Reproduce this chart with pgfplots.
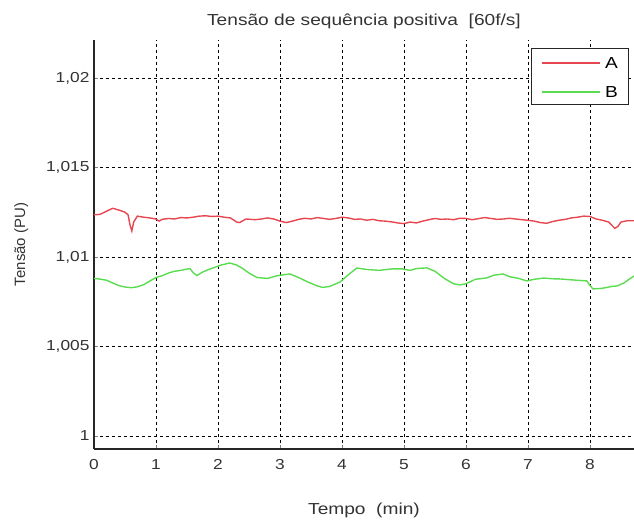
\documentclass[border=0pt]{standalone}
\usepackage{pgfplots}
\pgfplotsset{compat=1.18}
\usepackage{fontspec}
\setmainfont{Liberation Sans}
\newfontfamily\sfont{Liberation Sans}[FakeStretch=1.2]
\definecolor{redA}{RGB}{230,70,80}
\definecolor{greenB}{RGB}{90,220,80}
\begin{document}
\begin{tikzpicture}
\useasboundingbox (-94bp,-71bp) rectangle (540bp,449bp);
\begin{axis}[
  at={(0,0)}, anchor=south west,
  scale only axis, width=540bp, height=409bp,
  xmin=0, xmax=8.71, ymin=0.99927, ymax=1.02212,
  axis x line*=bottom, axis y line*=left,
  axis line style={black!85, line width=1.2pt, -},
  xtick={0,1,2,3,4,5,6,7,8},
  ytick={1,1.005,1.01,1.015,1.02},
  yticklabels={1,{1,005},{1,01},{1,015},{1,02}},
  scaled y ticks=false,
  tick align=inside, major tick length=4bp,
  grid=major,
  major grid style={black, line width=0.8pt, dash pattern=on 3bp off 3bp},
  tick label style={font=\sfont\fontsize{14.5}{14.5}\selectfont, text=black!80},
  /pgf/number format/assume math mode=true,
  xticklabel style={yshift=-7bp},
  yticklabel style={xshift=-1bp},
  title={Tensão de sequência positiva\ \ [60f/s]},
  title style={font=\sfont\fontsize{16}{16}\selectfont, text=black!80, at={(0.5,1)}, yshift=2bp},
  xlabel={Tempo\ \ (min)},
  ylabel={Tensão (PU)},
  xlabel style={font=\sfont\fontsize{16}{16}\selectfont, text=black!80, yshift=-26bp},
  ylabel style={font=\fontsize{15}{15}\selectfont, text=black!80, yshift=11bp},
]
\addplot[redA, line width=1.4pt] coordinates {
(0,1.01235)(0.1,1.01238)(0.2,1.01255)(0.3,1.01272)(0.4,1.01262)(0.5,1.01250)(0.55,1.01235)(0.58,1.01180)(0.61,1.01145)(0.64,1.01195)(0.7,1.01228)(0.8,1.01222)(0.9,1.01218)(1.0,1.01212)(1.05,1.01200)(1.1,1.01210)(1.2,1.01215)(1.3,1.01212)(1.4,1.01220)(1.5,1.01218)(1.6,1.01222)(1.7,1.01228)(1.8,1.01230)(1.9,1.01226)(2.0,1.01228)(2.1,1.01222)(2.2,1.01218)(2.3,1.01195)(2.35,1.01192)(2.45,1.01212)(2.6,1.01208)(2.7,1.01212)(2.8,1.01218)(2.9,1.01212)(3.0,1.01200)(3.1,1.01192)(3.2,1.01200)(3.3,1.01210)(3.4,1.01216)(3.5,1.01212)(3.6,1.01220)(3.7,1.01215)(3.8,1.01210)(3.9,1.01215)(4.0,1.01222)(4.1,1.01218)(4.2,1.01210)(4.3,1.01212)(4.4,1.01205)(4.5,1.01210)(4.6,1.01202)(4.7,1.01200)(4.8,1.01196)(4.9,1.01190)(5.0,1.01186)(5.1,1.01195)(5.2,1.01190)(5.3,1.01200)(5.4,1.01208)(5.5,1.01215)(5.6,1.01210)(5.7,1.01212)(5.8,1.01208)(5.9,1.01216)(6.0,1.01215)(6.1,1.01208)(6.2,1.01214)(6.3,1.01220)(6.4,1.01215)(6.5,1.01210)(6.6,1.01212)(6.7,1.01216)(6.8,1.01212)(6.9,1.01208)(7.0,1.01205)(7.1,1.01200)(7.2,1.01192)(7.3,1.01188)(7.4,1.01198)(7.5,1.01205)(7.6,1.01210)(7.7,1.01218)(7.8,1.01222)(7.9,1.01228)(8.0,1.01226)(8.1,1.01212)(8.2,1.01205)(8.3,1.01195)(8.4,1.01160)(8.45,1.01170)(8.5,1.01195)(8.6,1.01202)(8.71,1.01202)
};
\addplot[greenB, line width=1.4pt] coordinates {
(0,1.00880)(0.1,1.00876)(0.2,1.00870)(0.3,1.00855)(0.4,1.00840)(0.5,1.00832)(0.6,1.00828)(0.7,1.00833)(0.8,1.00845)(0.9,1.00865)(1.0,1.00885)(1.1,1.00895)(1.2,1.00910)(1.3,1.00920)(1.4,1.00925)(1.5,1.00932)(1.55,1.00935)(1.6,1.00912)(1.66,1.00896)(1.75,1.00915)(1.85,1.00930)(1.95,1.00942)(2.05,1.00955)(2.19,1.00966)(2.3,1.00955)(2.4,1.00935)(2.5,1.00910)(2.63,1.00885)(2.8,1.00880)(2.95,1.00895)(3.16,1.00905)(3.3,1.00885)(3.45,1.00860)(3.6,1.00838)(3.69,1.00830)(3.8,1.00835)(3.97,1.00860)(4.1,1.00900)(4.24,1.00938)(4.4,1.00930)(4.6,1.00925)(4.8,1.00933)(4.98,1.00933)(5.1,1.00925)(5.2,1.00935)(5.37,1.00939)(5.5,1.00920)(5.65,1.00880)(5.8,1.00850)(5.9,1.00844)(6.0,1.00850)(6.15,1.00875)(6.34,1.00883)(6.45,1.00898)(6.6,1.00905)(6.7,1.00890)(6.85,1.00880)(6.98,1.00866)(7.1,1.00875)(7.25,1.00882)(7.4,1.00878)(7.52,1.00877)(7.7,1.00872)(7.95,1.00866)(8.0,1.00840)(8.05,1.00821)(8.2,1.00825)(8.35,1.00835)(8.44,1.00838)(8.55,1.00855)(8.65,1.00880)(8.71,1.00894)
};
% legend box
\draw[black!85, line width=1pt, fill=white] (rel axis cs:0.811,0.978) rectangle (rel axis cs:0.989,0.8435);
\draw[redA, line width=1.4pt] (rel axis cs:0.8296,0.9438) -- (rel axis cs:0.937,0.9438);
\draw[greenB, line width=1.4pt] (rel axis cs:0.8296,0.873) -- (rel axis cs:0.937,0.873);
\node[anchor=west, inner sep=0pt, font=\sfont\fontsize{16}{16}\selectfont] at (rel axis cs:0.946,0.9438) {A};
\node[anchor=west, inner sep=0pt, font=\sfont\fontsize{16}{16}\selectfont] at (rel axis cs:0.946,0.873) {B};
\end{axis}
\end{tikzpicture}
\end{document}
